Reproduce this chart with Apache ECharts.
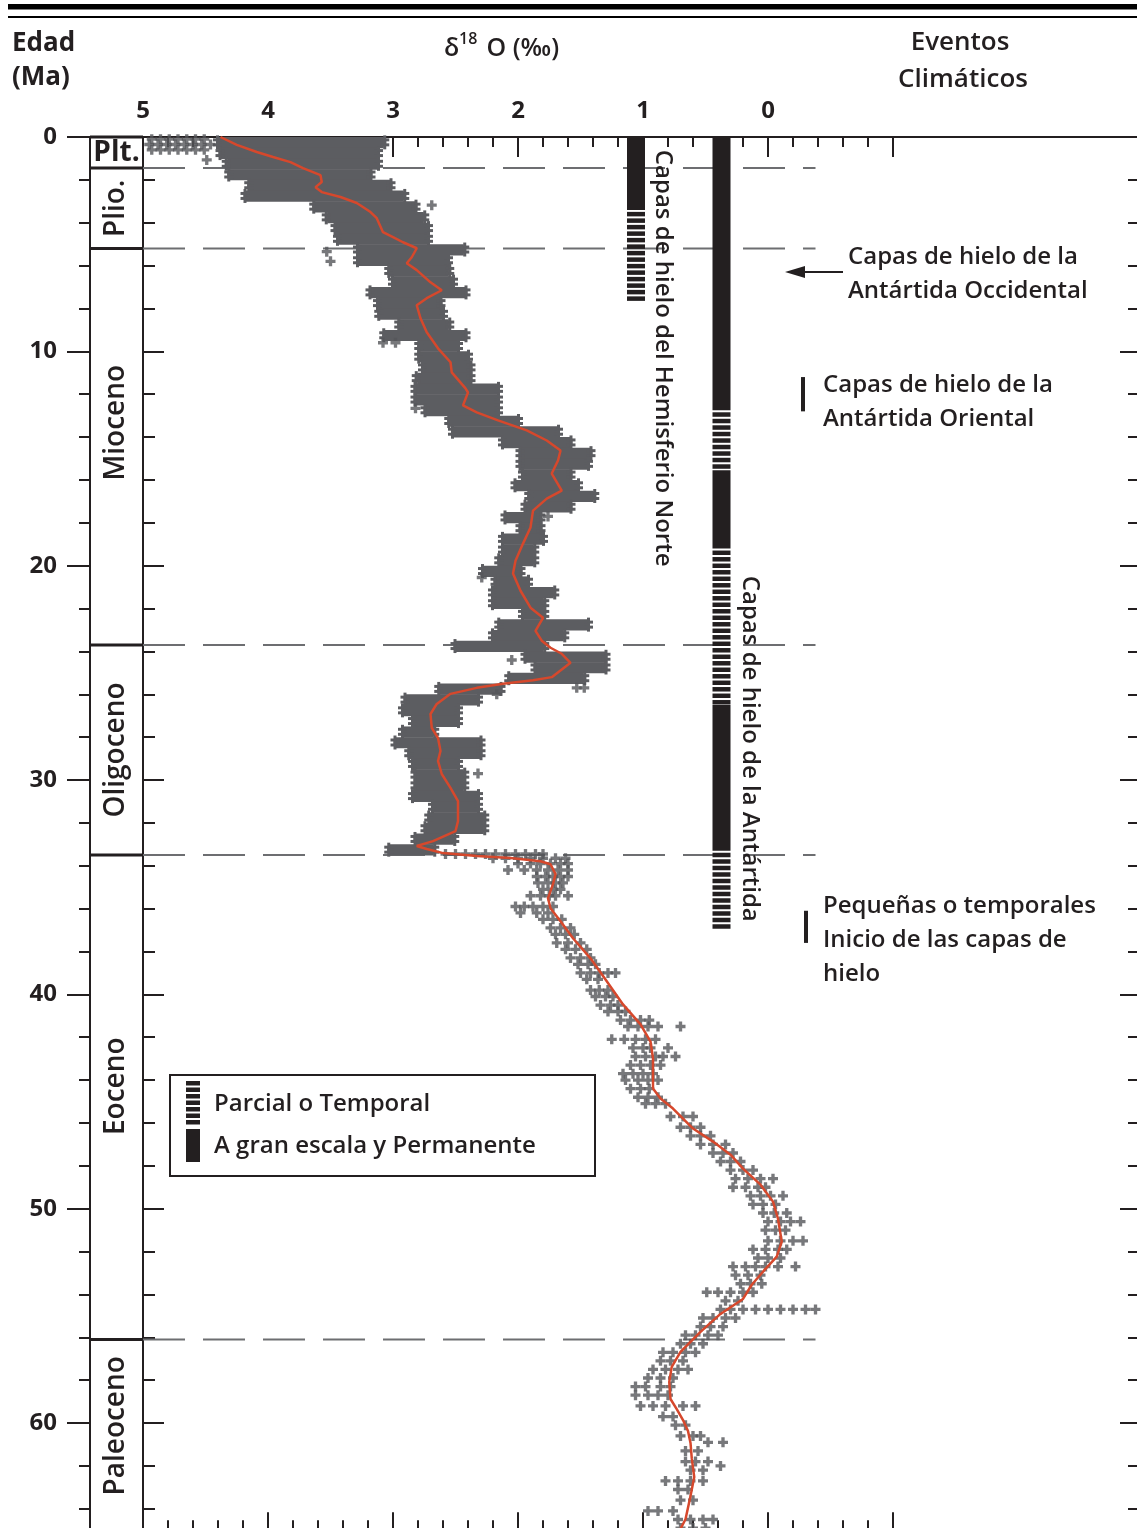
<!DOCTYPE html>
<html><head><meta charset="utf-8">
<script src="https://cdn.jsdelivr.net/npm/echarts/dist/echarts.min.js"></script>
<style>html,body{margin:0;padding:0;background:#fff}#c{width:1137px;height:1528px}</style>
</head><body><div id="c"></div>
<script>
// ---------------- DATA ----------------
// smoothed δ18O curve: [age Ma, δ18O ‰]
const curve = [[0.0,4.38],[0.37,4.25],[0.70,4.09],[0.93,3.96],[1.17,3.82],[1.45,3.72],[1.78,3.58],[2.10,3.57],[2.34,3.62],[2.57,3.57],[2.80,3.42],[3.08,3.29],[3.50,3.18],[3.79,3.13],[4.44,3.08],[4.67,3.00],[4.91,2.92],[5.19,2.81],[5.61,2.85],[5.89,2.89],[6.21,2.81],[6.78,2.70],[7.15,2.61],[7.52,2.73],[7.85,2.81],[8.46,2.78],[9.11,2.73],[9.86,2.64],[10.51,2.54],[10.98,2.53],[11.73,2.42],[11.92,2.40],[12.52,2.44],[12.85,2.33],[13.22,2.16],[13.69,1.93],[14.16,1.77],[14.63,1.66],[15.09,1.68],[15.70,1.73],[16.50,1.65],[16.87,1.77],[17.43,1.88],[18.22,1.90],[18.97,1.96],[19.77,2.02],[20.37,2.04],[21.17,1.98],[21.96,1.90],[22.43,1.80],[23.04,1.86],[23.50,1.81],[23.83,1.74],[24.11,1.65],[24.53,1.58],[25.20,1.73],[25.35,1.88],[25.51,2.12],[25.70,2.33],[25.98,2.54],[26.45,2.65],[26.92,2.70],[27.57,2.69],[28.04,2.64],[28.64,2.62],[29.11,2.64],[29.72,2.61],[30.37,2.54],[30.98,2.48],[31.92,2.48],[32.38,2.50],[32.85,2.68],[33.08,2.81],[33.22,2.73],[33.41,2.60],[33.55,2.33],[33.64,2.06],[33.79,1.82],[33.93,1.74],[34.39,1.70],[34.86,1.72],[35.51,1.76],[35.98,1.74],[36.59,1.66],[37.38,1.56],[38.32,1.42],[39.39,1.29],[40.47,1.16],[41.40,1.02],[42.20,0.94],[42.99,0.92],[44.39,0.92],[44.86,0.86],[45.33,0.76],[46.26,0.60],[46.87,0.44],[47.48,0.30],[48.13,0.20],[48.88,0.06],[49.67,-0.04],[50.47,-0.08],[51.54,-0.11],[52.24,-0.07],[52.94,0.04],[53.55,0.13],[54.21,0.20],[54.91,0.38],[55.75,0.54],[56.68,0.70],[57.38,0.77],[58.08,0.79],[58.88,0.78],[59.35,0.73],[59.86,0.68],[60.37,0.64],[60.93,0.62],[61.64,0.61],[62.52,0.59],[63.41,0.62],[64.49,0.66],[65.5,0.75]];

// dense part of the measurement cloud: [age (row centre, Ma), highest δ18O, lowest δ18O]
const cloudRows = [[0.25,4.42,3.05],[0.75,4.40,3.10],[1.25,4.35,3.10],[1.75,4.33,3.16],[2.25,4.17,3.00],[2.75,4.20,2.89],[3.25,3.65,2.80],[3.75,3.55,2.73],[4.25,3.48,2.70],[4.75,3.46,2.70],[5.25,3.30,2.41],[5.75,3.30,2.54],[6.25,3.05,2.53],[6.75,3.02,2.50],[7.25,3.20,2.40],[7.75,3.14,2.60],[8.25,3.13,2.58],[8.75,2.97,2.53],[9.25,3.09,2.40],[9.75,2.81,2.46],[10.25,2.81,2.38],[10.75,2.78,2.36],[11.25,2.83,2.36],[11.75,2.84,2.14],[12.25,2.84,2.14],[12.75,2.76,2.14],[13.25,2.57,1.98],[13.75,2.54,1.66],[14.25,2.14,1.56],[14.75,2.00,1.40],[15.25,2.00,1.42],[15.75,1.98,1.56],[16.25,2.04,1.50],[16.75,1.93,1.37],[17.25,1.96,1.56],[17.75,2.12,1.80],[18.25,2.00,1.80],[18.75,2.14,1.78],[19.25,2.14,1.85],[19.75,2.17,1.85],[20.25,2.30,1.96],[20.75,2.20,1.90],[21.25,2.22,1.69],[21.75,2.22,1.77],[22.25,1.98,1.77],[22.75,2.17,1.42],[23.25,2.22,1.61],[23.75,2.52,1.77],[24.25,1.96,1.28],[24.75,1.88,1.28],[25.25,2.09,1.45],[25.75,2.65,2.12],[26.25,2.92,2.30],[26.75,2.94,2.46],[27.25,2.86,2.46],[27.75,2.94,2.65],[28.25,3.00,2.28],[28.75,2.89,2.28],[29.25,2.86,2.46],[29.75,2.84,2.41],[30.25,2.84,2.41],[30.75,2.86,2.30],[31.25,2.70,2.30],[31.75,2.73,2.25],[32.25,2.76,2.25],[32.75,2.84,2.49],[33.25,3.05,2.65]];

// individual measurements: [age Ma, δ18O ‰]
const scatterPts = [
[0.1,4.93],[0.1,4.86],[0.1,4.79],[0.1,4.72],[0.1,4.65],[0.1,4.58],[0.1,4.51],
[0.35,4.95],[0.35,4.88],[0.35,4.81],[0.35,4.74],[0.35,4.67],[0.35,4.6],[0.35,4.53],[0.35,4.46],
[0.6,4.93],[0.6,4.86],[0.6,4.79],[0.6,4.72],[0.6,4.65],[0.6,4.58],[0.6,4.51],[1.07,4.49],
[3.18,2.69],[5.8,3.5],[5.35,3.53],[9.6,3.08],[9.6,2.98],[12.66,2.82],[17.7,1.76],[20.55,2.29],[24.4,2.05],[25.7,1.53],[25.7,1.47],[26.0,2.17],[29.7,2.32],
[33.45,2.58],[33.45,2.5],[33.45,2.42],[33.45,2.34],[33.45,2.26],[33.45,2.18],[33.45,2.1],[33.45,2.02],[33.45,1.94],[33.45,1.86],[33.45,1.8],
[33.65,2.2],[33.65,2.1],[33.65,2.0],[33.65,1.9],[33.65,1.8],[33.65,1.7],[33.65,1.62],
[33.9,2.0],[33.9,1.9],[33.9,1.82],[33.9,1.74],[33.9,1.66],[33.9,1.6],
[34.2,2.08],[34.2,1.95],[34.2,1.85],[34.2,1.76],[34.2,1.68],[34.2,1.6],
[34.5,1.85],[34.5,1.78],[34.5,1.72],[34.5,1.66],[34.5,1.6],
[34.8,1.84],[34.8,1.76],[34.8,1.7],[34.8,1.64],
[35.1,1.8],[35.1,1.72],[35.1,1.66],
[35.4,1.9],[35.4,1.82],[35.4,1.75],[35.4,1.7],[35.4,1.6],
[35.9,2.02],[35.9,1.95],[35.9,1.88],[35.9,1.8],[35.9,1.72],
[36.2,1.98],[36.2,1.85],[36.2,1.76],
[36.5,1.8],[36.5,1.72],[36.5,1.65],
[36.9,1.74],[36.9,1.66],[36.9,1.58],
[37.2,1.7],[37.2,1.62],[37.2,1.55],
[37.6,1.69],[37.6,1.6],[37.6,1.5],
[37.9,1.62],[37.9,1.54],[37.9,1.45],
[38.3,1.58],[38.3,1.5],[38.3,1.42],
[38.6,1.52],[38.6,1.44],[38.6,1.38],
[39.0,1.5],[39.0,1.42],[39.0,1.35],[39.0,1.28],[39.0,1.22],
[39.3,1.45],[39.3,1.36],
[39.8,1.42],[39.8,1.35],[39.8,1.28],
[40.1,1.38],[40.1,1.3],[40.1,1.24],
[40.5,1.34],[40.5,1.26],[40.5,1.2],
[40.8,1.28],[40.8,1.2],[40.8,1.14],
[41.2,1.18],[41.2,1.1],[41.2,1.02],[41.2,0.95],
[41.5,1.12],[41.5,1.04],[41.5,0.96],[41.5,0.88],[41.5,0.7],
[42.1,1.25],[42.1,1.15],[42.1,1.06],[42.1,0.98],[42.1,0.9],
[42.5,1.08],[42.5,1.0],[42.5,0.94],[42.5,0.8],
[42.9,1.06],[42.9,0.98],[42.9,0.9],[42.9,0.84],[42.9,0.74],
[43.3,1.1],[43.3,1.02],[43.3,0.94],[43.3,0.86],
[43.7,1.16],[43.7,1.08],[43.7,1.0],[43.7,0.92],
[44.0,1.14],[44.0,1.04],[44.0,0.96],[44.0,0.88],
[44.4,1.1],[44.4,1.02],[44.4,0.95],
[44.8,1.04],[44.8,0.96],[44.8,0.88],
[45.1,0.98],[45.1,0.9],[45.1,0.82],
[45.7,0.78],[45.7,0.68],[45.7,0.6],
[46.2,0.7],[46.2,0.62],[46.2,0.54],
[46.6,0.62],[46.6,0.54],[46.6,0.46],
[47.0,0.54],[47.0,0.44],[47.0,0.34],
[47.4,0.44],[47.4,0.36],[47.4,0.28],
[47.8,0.38],[47.8,0.3],[47.8,0.22],
[48.2,0.3],[48.2,0.2],[48.2,0.12],
[48.6,0.26],[48.6,0.16],[48.6,0.06],[48.6,-0.04],
[49.0,0.28],[49.0,0.18],[49.0,0.08],[49.0,0.02],
[49.4,0.14],[49.4,0.06],[49.4,-0.02],[49.4,-0.12],
[49.8,0.12],[49.8,0.04],[49.8,-0.06],
[50.2,0.04],[50.2,-0.05],[50.2,-0.15],
[50.6,0.0],[50.6,-0.1],[50.6,-0.18],[50.6,-0.26],
[51.0,0.02],[51.0,-0.06],[51.0,-0.14],
[51.5,0.0],[51.5,-0.1],[51.5,-0.2],[51.5,-0.28],
[51.9,0.12],[51.9,0.02],[51.9,-0.08],[51.9,-0.15],
[52.3,0.08],[52.3,0.0],[52.3,-0.1],
[52.7,0.28],[52.7,0.18],[52.7,0.1],[52.7,0.02],[52.7,-0.08],[52.7,-0.22],
[53.1,0.26],[53.1,0.16],[53.1,0.06],
[53.5,0.22],[53.5,0.14],[53.5,0.05],
[53.9,0.49],[53.9,0.4],[53.9,0.3],[53.9,0.2],[53.9,0.12],
[54.3,0.34],[54.3,0.24],
[54.7,0.38],[54.7,0.3],[54.7,0.2],[54.7,0.1],[54.7,0.0],[54.7,-0.1],[54.7,-0.2],[54.7,-0.3],[54.7,-0.38],
[55.1,0.52],[55.1,0.44],[55.1,0.34],[55.1,0.26],
[55.5,0.54],[55.5,0.46],[55.5,0.36],
[55.9,0.66],[55.9,0.58],[55.9,0.48],[55.9,0.4],
[56.3,0.7],[56.3,0.62],[56.3,0.52],
[56.7,0.84],[56.7,0.76],[56.7,0.66],[56.7,0.58],
[57.1,0.86],[57.1,0.78],[57.1,0.68],
[57.5,0.92],[57.5,0.82],[57.5,0.72],[57.5,0.64],
[57.9,0.96],[57.9,0.86],[57.9,0.76],
[58.3,1.06],[58.3,0.98],[58.3,0.86],[58.3,0.78],
[58.7,1.06],[58.7,0.96],[58.7,0.88],[58.7,0.8],
[59.2,1.02],[59.2,0.92],[59.2,0.82],[59.2,0.68],[59.2,0.58],
[59.7,0.84],[59.7,0.76],
[60.1,0.74],[60.1,0.66],
[60.6,0.7],[60.6,0.6],[60.6,0.54],
[60.9,0.48],[60.9,0.36],
[61.3,0.66],[61.3,0.56],
[61.8,0.66],[61.8,0.58],[61.8,0.48],
[62.0,0.38],
[62.2,0.62],[62.2,0.52],
[62.7,0.82],[62.7,0.72],[62.7,0.62],[62.7,0.52],
[63.1,0.72],[63.1,0.64],
[63.6,0.7],[63.6,0.6],
[64.1,0.96],[64.1,0.88],[64.1,0.76],
[64.5,0.72],[64.5,0.62],[64.5,0.52],[64.5,0.44],
[64.9,0.7],[64.9,0.6],[64.9,0.5]];

// geological epochs: [start Ma, end Ma, name]
const epochs = [[0,1.45,'Plt.'],[1.45,5.2,'Plio.'],[5.2,23.7,'Mioceno'],[23.7,33.5,'Oligoceno'],[33.5,56.1,'Eoceno'],[56.1,65,'Paleoceno']];
const boundaries = [1.45, 5.2, 23.7, 33.5, 56.1];

// ice sheets: [start Ma, end Ma, 1 = large & permanent / 0 = partial or temporary]
const nhIce  = [[0,3.4,1],[3.4,7.75,0]];
const antIce = [[0,12.75,1],[12.75,15.55,0],[15.55,19.2,1],[19.2,26.5,0],[26.5,33.3,1],[33.3,36.95,0]];
const iceLabels = ['Capas de hielo del Hemisferio Norte','Capas de hielo de la Antártida'];

// climatic events: ages and texts
const eventAges = [[6.3,6.3],[11.2,12.8],[36.1,37.6]];
const eventText = ['Capas de hielo de la\nAntártida Occidental','Capas de hielo de la\nAntártida Oriental','Pequeñas o temporales\nInicio de las capas de\nhielo'];
const legendText = ['Parcial o Temporal','A gran escala y Permanente'];
const titles = {age:['Edad','(Ma)'], iso:['δ','18',' O (‰)'], events:['Eventos','Climáticos']};

// ---------------- LAYOUT / STYLE ----------------
const FF = "'Open Sans', sans-serif";
const FONT = "600 24px " + FF;
const INK = '#231f20';
const GRAY = '#55565a';
const CLOUD = '#5c5d61';
const RED = '#d6482c';
const ROW = 0.5;
const ICE_X = [1.056, 0.372];
const ICE_LABEL = [{d:0.84, age:0.6},{d:0.144, age:20.47}];
const EPOCH_SHIFT = {'Mioceno':-24,'Eoceno':-11,'Paleoceno':-9};
const EV_BAR_X = [0, 801, 804], EV_TEXT_X = [848, 823, 823], EV_DY = [2, 8, 13];
const CROSS = 'path://M3,0H6V3H9V6H6V9H3V6H0V3H3Z';

const chart = echarts.init(document.getElementById('c'), null, {renderer:'canvas', width:1137, height:1528});
const PX = 1393.2/65; // px per Ma

function crossShape(cx, cy, s, t){
  return {type:'group', children:[
    {type:'rect', shape:{x:cx-s/2, y:cy-t/2, width:s, height:t}, style:{fill:CLOUD}},
    {type:'rect', shape:{x:cx-t/2, y:cy-s/2, width:t, height:s}, style:{fill:CLOUD}}
  ]};
}
function renderCloud(params, api){
  const age = api.value(0), l = api.value(1), r = api.value(2);
  const p1 = api.coord([l, age - ROW/2]), p2 = api.coord([r, age + ROW/2]);
  const cy = (p1[1]+p2[1])/2;
  return {type:'group', children:[
    {type:'rect', shape:{x:p1[0]+3, y:p1[1], width:p2[0]-p1[0]-6, height:p2[1]-p1[1]+0.5}, style:{fill:CLOUD}},
    crossShape(p1[0]+2, cy-2.5, 9, 3), crossShape(p1[0]+2, cy+2.5, 9, 3),
    crossShape(p2[0]-2, cy-2.5, 9, 3), crossShape(p2[0]-2, cy+2.5, 9, 3)
  ]};
}
function renderBoundary(params, api){
  const a = api.value(0);
  const p1 = api.coord([5, a]), p2 = api.coord([-0.38, a]);
  return {type:'line', shape:{x1:p1[0], y1:p1[1], x2:p2[0], y2:p2[1]}, style:{stroke:'#6d6e71', lineWidth:2, lineDash:[42,18]}};
}
function renderIce(params, api){
  const col = api.value(0), a0 = api.value(1), a1 = api.value(2), full = api.value(3);
  const c = api.coord([ICE_X[col], a0]), e = api.coord([ICE_X[col], a1]);
  const w = 18, x = c[0] - w/2;
  if (full) return {type:'rect', shape:{x:x, y:c[1], width:w, height:e[1]-c[1]}, style:{fill:INK}};
  const ch = [];
  for (let y = c[1] + 2; y < e[1] - 1; y += 6.5) ch.push({type:'rect', shape:{x:x, y:y, width:w, height:Math.min(4.5, e[1]-y)}, style:{fill:INK}});
  return {type:'group', children:ch};
}
function renderIceLabel(params, api){
  const i = params.dataIndex;
  const p = api.coord([ICE_LABEL[i].d, ICE_LABEL[i].age]);
  return {type:'text', x:p[0], y:p[1], rotation:-Math.PI/2, style:{text:iceLabels[i], font:FONT, fill:INK, align:'left', verticalAlign:'middle'}};
}
function renderEpoch(params, api){
  const ep = epochs[params.dataIndex];
  const t = api.coord([0, ep[0]]), b = api.coord([1, ep[1]]);
  const cx = (t[0]+b[0])/2, cy = (t[1]+b[1])/2 + (EPOCH_SHIFT[ep[2]]||0);
  const rot = ep[2] === 'Plt.' ? 0 : Math.PI/2;
  return {type:'group', children:[
    {type:'line', shape:{x1:t[0], y1:t[1], x2:b[0], y2:t[1]}, style:{stroke:INK, lineWidth:3}},
    {type:'text', x:cx, y:cy, rotation:rot, style:{text:ep[2], font:(ep[2]==='Plt.'?'700 28px ':'600 28px ')+FF, fill:INK, align:'center', verticalAlign:'middle'}}
  ]};
}
function renderEvent(params, api){
  const i = params.dataIndex;
  const y0 = api.coord([0, api.value(0)])[1], y1 = api.coord([0, api.value(1)])[1];
  const ch = [];
  if (i === 0) {
    ch.push({type:'line', shape:{x1:800, y1:y0, x2:843, y2:y0}, style:{stroke:INK, lineWidth:2}});
    ch.push({type:'polygon', shape:{points:[[785,y0],[805,y0-6],[805,y0+6]]}, style:{fill:INK}});
  } else {
    ch.push({type:'rect', shape:{x:EV_BAR_X[i], y:y0, width:4, height:y1-y0}, style:{fill:INK}});
  }
  ch.push({type:'text', x:EV_TEXT_X[i], y:(y0+y1)/2 + EV_DY[i], style:{text:eventText[i], font:FONT, fill:INK, align:'left', verticalAlign:'middle', lineHeight:34}});
  return {type:'group', children:ch};
}

const iceData = nhIce.map(r => [0, r[0], r[1], r[2]]).concat(antIce.map(r => [1, r[0], r[1], r[2]]));
const tickStyle = {color:INK, width:2};
const H70 = PX*70;

const legendIcon = [];
for (let y = 1081; y < 1125; y += 6.5) legendIcon.push({type:'rect', shape:{x:186, y:y, width:14, height:4.5}, style:{fill:INK}});

chart.setOption({
  animation:false,
  backgroundColor:'#fff',
  grid:[
    {left:143, top:137, width:994, height:H70, outerBoundsMode:'none', containLabel:false},
    {left:143, top:137, width:750, height:PX*65, outerBoundsMode:'none', containLabel:false},
    {left:90, top:137, width:53, height:H70, outerBoundsMode:'none', containLabel:false}
  ],
  xAxis:[
    {gridIndex:0, type:'value', min:-2.952, max:5, inverse:true, position:'top',
     axisLine:{show:true, onZero:false, lineStyle:tickStyle}, axisTick:{show:false}, axisLabel:{show:false}, splitLine:{show:false}},
    {gridIndex:1, type:'value', min:-1, max:5, interval:1, inverse:true, position:'top',
     axisLine:{show:false, onZero:false}, axisTick:{show:true, inside:true, length:20, lineStyle:tickStyle},
     minorTick:{show:true, splitNumber:5, length:10, lineStyle:tickStyle},
     axisLabel:{show:true, margin:14, fontSize:24, fontWeight:'bold', fontFamily:FF, color:INK, formatter:v => v < 0 ? '' : String(v)},
     splitLine:{show:false}},
    {gridIndex:1, type:'value', min:-1, max:5, interval:1, inverse:true, position:'bottom',
     axisLine:{show:false, onZero:false}, axisTick:{show:true, inside:true, length:18, lineStyle:tickStyle},
     minorTick:{show:true, splitNumber:5, length:10, lineStyle:tickStyle},
     axisLabel:{show:false}, splitLine:{show:false}},
    {gridIndex:2, type:'value', min:0, max:1, show:false}
  ],
  yAxis:[
    {gridIndex:0, type:'value', min:0, max:70, interval:10, inverse:true, position:'left', offset:0,
     axisLine:{show:true, onZero:false, lineStyle:tickStyle}, axisTick:{show:true, inside:true, length:21, lineStyle:tickStyle},
     minorTick:{show:true, splitNumber:5, length:12, lineStyle:tickStyle}, axisLabel:{show:false}, splitLine:{show:false}},
    {gridIndex:0, type:'value', min:0, max:70, interval:10, inverse:true, position:'left', offset:53,
     axisLine:{show:true, onZero:false, lineStyle:tickStyle}, axisTick:{show:true, inside:false, length:23, lineStyle:tickStyle},
     minorTick:{show:true, splitNumber:5, length:11, lineStyle:tickStyle},
     axisLabel:{show:true, margin:33, fontSize:24, fontWeight:'bold', fontFamily:FF, color:INK, formatter:v => v > 60 ? '' : String(v)},
     splitLine:{show:false}},
    {gridIndex:0, type:'value', min:0, max:70, interval:10, inverse:true, position:'right', offset:0,
     axisLine:{show:false, onZero:false}, axisTick:{show:true, inside:true, length:17, lineStyle:tickStyle},
     minorTick:{show:true, splitNumber:5, length:9, lineStyle:tickStyle}, axisLabel:{show:false}, splitLine:{show:false}},
    {gridIndex:1, type:'value', min:0, max:65, inverse:true, show:false},
    {gridIndex:2, type:'value', min:0, max:70, inverse:true, show:false}
  ],
  series:[
    {type:'custom', name:'boundaries', xAxisIndex:0, yAxisIndex:0, z:1, silent:true, data:boundaries.map(a => [a]), renderItem:renderBoundary},
    {type:'custom', name:'cloud', xAxisIndex:0, yAxisIndex:0, z:2, silent:true, data:cloudRows, encode:{x:[1,2], y:0}, renderItem:renderCloud},
    {type:'scatter', name:'δ18O', xAxisIndex:0, yAxisIndex:0, z:3, silent:true, data:scatterPts.map(p => [p[1], p[0]]),
     symbol:CROSS, symbolSize:10, itemStyle:{color:GRAY}},
    {type:'line', name:'curve', xAxisIndex:0, yAxisIndex:0, z:4, silent:true, data:curve.map(p => [p[1], p[0]]),
     symbol:'none', lineStyle:{color:RED, width:2.5}},
    {type:'custom', name:'ice', xAxisIndex:0, yAxisIndex:0, z:5, silent:true, data:iceData, renderItem:renderIce},
    {type:'custom', name:'iceLabels', xAxisIndex:0, yAxisIndex:0, z:5, silent:true, data:iceLabels.map((t,i) => [i]), renderItem:renderIceLabel},
    {type:'custom', name:'events', xAxisIndex:0, yAxisIndex:0, z:5, silent:true, data:eventAges, renderItem:renderEvent},
    {type:'custom', name:'epochs', xAxisIndex:3, yAxisIndex:4, z:5, silent:true, data:epochs.map(e => [e[0], e[1]]), renderItem:renderEpoch}
  ],
  graphic:[
    {type:'rect', shape:{x:8, y:4, width:1129, height:5.5}, style:{fill:'#000'}, silent:true},
    {type:'rect', shape:{x:8, y:16, width:1129, height:2}, style:{fill:'#000'}, silent:true},
    {type:'text', x:12, y:44, style:{text:titles.age[0], font:'700 26px '+FF, fill:INK, align:'left', verticalAlign:'middle'}},
    {type:'text', x:12, y:78, style:{text:titles.age[1], font:'700 26px '+FF, fill:INK, align:'left', verticalAlign:'middle'}},
    {type:'text', x:444, y:49, style:{text:titles.iso[0], font:'600 25px '+FF, fill:INK, align:'left', verticalAlign:'middle'}},
    {type:'text', x:459, y:39, style:{text:titles.iso[1], font:'600 16px '+FF, fill:INK, align:'left', verticalAlign:'middle'}},
    {type:'text', x:480, y:49, style:{text:titles.iso[2], font:'600 25px '+FF, fill:INK, align:'left', verticalAlign:'middle'}},
    {type:'text', x:960, y:43, style:{text:titles.events[0], font:'600 26px '+FF, fill:INK, align:'center', verticalAlign:'middle'}},
    {type:'text', x:963, y:80, style:{text:titles.events[1], font:'600 26px '+FF, fill:INK, align:'center', verticalAlign:'middle'}},
    {type:'group', children:[
      {type:'rect', shape:{x:170, y:1075, width:425, height:101}, style:{fill:'#fff', stroke:INK, lineWidth:2}},
      ...legendIcon,
      {type:'rect', shape:{x:186, y:1129, width:14, height:33}, style:{fill:INK}},
      {type:'text', x:214, y:1104, style:{text:legendText[0], font:FONT, fill:INK, align:'left', verticalAlign:'middle'}},
      {type:'text', x:214, y:1146, style:{text:legendText[1], font:FONT, fill:INK, align:'left', verticalAlign:'middle'}}
    ]}
  ]
});
</script>
</body></html>
